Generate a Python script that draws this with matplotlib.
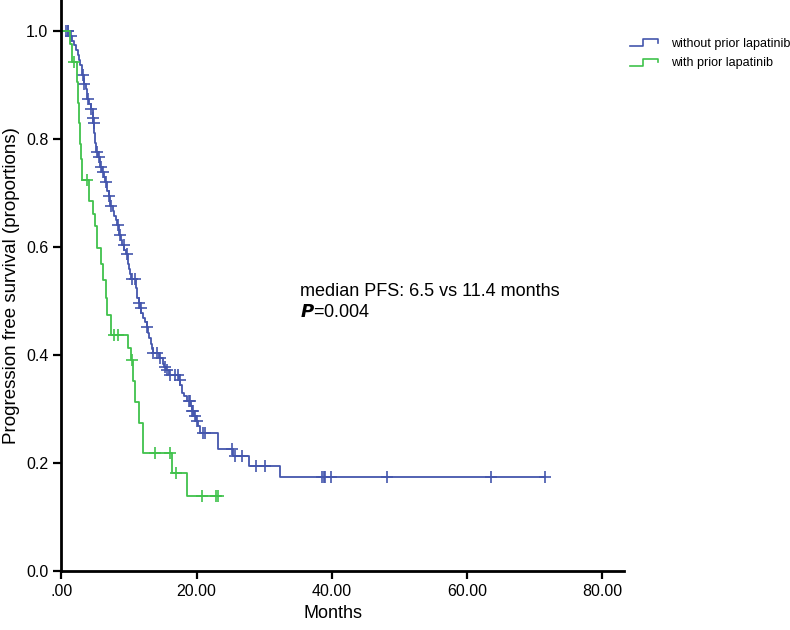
import numpy as np
import matplotlib
matplotlib.use('Agg')
import matplotlib.pyplot as plt
from matplotlib.lines import Line2D
from matplotlib.legend_handler import HandlerBase

plt.rcParams['font.family'] = ['Liberation Sans', 'DejaVu Sans']

# Kaplan-Meier steps: time (months) and survival after the drop
blue_times = [1.2, 1.6, 1.9, 2.1, 2.4, 2.6, 2.8, 3.0, 3.1, 3.3, 3.6, 3.8, 4.1, 4.3,
              4.6, 4.7, 4.8, 5.0, 5.1, 5.4, 5.7, 6.0, 6.3, 6.5, 6.8, 7.0, 7.2, 7.6,
              7.8, 8.0, 8.2, 8.5, 8.8, 9.0, 9.3, 9.5, 9.8, 10.0, 10.2, 10.3, 11.0,
              11.2, 11.4, 11.6, 11.8, 12.0, 12.3, 12.6, 12.8, 13.0, 13.2, 13.4, 13.5,
              14.4, 15.0, 15.2, 15.5, 15.9, 17.4, 17.6, 17.9, 18.2, 18.6, 19.1, 19.3,
              19.6, 19.9, 20.2, 20.5, 23.2, 25.4, 27.7, 32.4]
blue_surv = [0.991, 0.982, 0.973, 0.964, 0.955, 0.946, 0.937, 0.928, 0.919, 0.901, 0.892,
             0.874, 0.865, 0.856, 0.838, 0.829, 0.811, 0.793, 0.775, 0.766, 0.748, 0.739,
             0.730, 0.721, 0.703, 0.694, 0.676, 0.667, 0.658, 0.649, 0.640, 0.622, 0.613,
             0.604, 0.595, 0.586, 0.568, 0.559, 0.550, 0.541, 0.523, 0.505, 0.496, 0.487,
             0.478, 0.469, 0.460, 0.451, 0.441, 0.431, 0.421, 0.411, 0.403, 0.394, 0.384,
             0.378, 0.372, 0.363, 0.353, 0.344, 0.329, 0.323, 0.314, 0.305, 0.296, 0.287,
             0.278, 0.268, 0.255, 0.225, 0.212, 0.194, 0.174]
blue_censor = [0.7, 0.9, 1.0, 1.4, 3.15, 3.35, 3.9, 4.35, 4.65, 4.75, 5.3, 5.6, 5.85, 6.1,
               6.6, 7.1, 7.4, 8.4, 8.7, 9.2, 9.7, 10.4, 10.9, 11.5, 11.7, 12.7, 13.6, 14.1,
               14.6, 15.3, 15.6, 16.1, 16.8, 17.3, 17.5, 18.8, 19.0, 19.35, 19.5, 19.8, 20.0,
               21.0, 21.3, 25.2, 25.7, 26.7, 28.8, 30.1, 38.5, 38.8, 39.0, 39.9, 48.1, 63.5,
               71.6]

green_times = [1.2, 1.6, 2.3, 2.4, 2.6, 2.8, 2.9, 3.0, 4.1, 4.6, 4.9, 5.3, 5.9, 6.2, 6.6,
               6.8, 7.3, 9.9, 10.3, 10.6, 10.9, 11.4, 12.1, 16.3, 18.5]
green_surv = [0.975, 0.943, 0.905, 0.867, 0.829, 0.791, 0.762, 0.724, 0.684, 0.660, 0.638,
              0.598, 0.568, 0.539, 0.505, 0.474, 0.437, 0.412, 0.391, 0.352, 0.313, 0.274,
              0.219, 0.182, 0.138]
green_censor = [1.9, 3.8, 7.7, 8.4, 10.5, 13.9, 16.0, 17.0, 20.8, 22.9, 23.1]
green_end = 23.4

labels = ['without prior lapatinib', 'with prior lapatinib']
colors = ['#4456ad', '#40c24c']


class StepHandler(HandlerBase):
    # legend key drawn as a small step, like the SPSS one
    def create_artists(self, legend, orig_handle, xdescent, ydescent, width, height, fontsize, trans):
        x0 = -xdescent
        y0 = -ydescent
        xs = [x0, x0 + 0.45 * width, x0 + 0.45 * width, x0 + width, x0 + width]
        ys = [y0 + 0.05 * height, y0 + 0.05 * height, y0 + 0.85 * height, y0 + 0.85 * height, y0 + 0.45 * height]
        line = Line2D(xs, ys, color=orig_handle.get_color(), lw=1.2, transform=trans)
        return [line]


def km_curve(ax, times, surv, censor, end, color):
    t = np.array([0.0] + list(times) + [end])
    s = np.array([1.0] + list(surv) + [surv[-1]])
    line, = ax.step(t, s, where='post', color=color, lw=1.3)
    c = np.array(censor)
    idx = np.searchsorted(t, c, side='right') - 1
    ax.plot(c, s[idx], linestyle='none', marker='+', markersize=9, mew=1.2, color=color)
    return line


fig = plt.figure(figsize=(7.9, 6.3), dpi=100)
ax = fig.add_axes([0.0778, 0.0937, 0.7127, 0.9063])

l1 = km_curve(ax, blue_times, blue_surv, blue_censor, blue_censor[-1], colors[0])
l2 = km_curve(ax, green_times, green_surv, green_censor, green_end, colors[1])

ax.set_xlim(0, 83.3)
ax.set_ylim(0, 1.057)
ax.set_xticks([0, 20, 40, 60, 80])
ax.set_xticklabels(['.00', '20.00', '40.00', '60.00', '80.00'])
ax.set_yticks([0, 0.2, 0.4, 0.6, 0.8, 1.0])
ax.set_yticklabels(['0.0', '0.2', '0.4', '0.6', '0.8', '1.0'])
ax.tick_params(labelsize=11.5, width=1.6, length=6, direction='out')
for side in ['top', 'right']:
    ax.spines[side].set_visible(False)
for side in ['left', 'bottom']:
    ax.spines[side].set_linewidth(2)

ax.set_xlabel('Months', fontsize=13)
ax.xaxis.label.set_x(0.483)
ax.set_ylabel('Progression free survival (proportions)', fontsize=13.5)

ax.text(35.3, 0.517, 'median PFS: 6.5 vs 11.4 months', fontsize=13, va='center')
ax.text(35.3, 0.479, r'$\boldsymbol{P}$=0.004', fontsize=13, va='center')

fig.legend([l1, l2], labels, handler_map={l1: StepHandler(), l2: StepHandler()},
           loc='upper left', bbox_to_anchor=(0.797, 0.94), frameon=False, fontsize=9,
           handlelength=2.3, handletextpad=1.0, labelspacing=0.6, borderpad=0, borderaxespad=0)

fig.savefig('out.png', dpi=100)
